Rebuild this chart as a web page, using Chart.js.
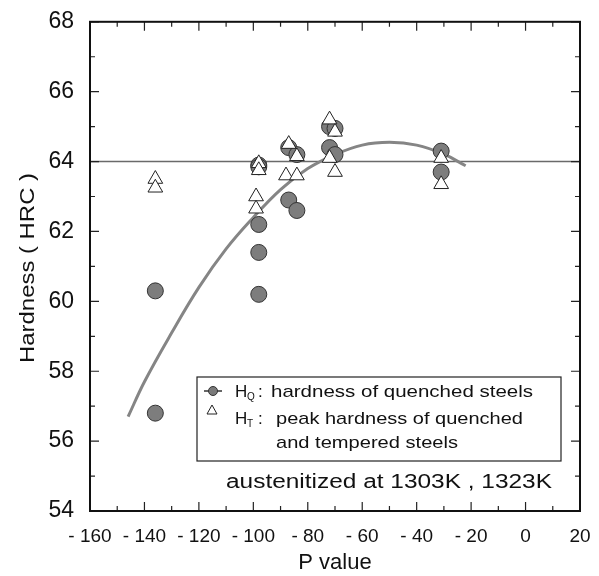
<!DOCTYPE html>
<html>
<head>
<meta charset="utf-8">
<script src="https://cdn.jsdelivr.net/npm/chart.js@4/dist/chart.umd.min.js"></script>
<style>
  body { margin: 0; background: #fff; }
  canvas { display: block; }
</style>
</head>
<body>
<canvas id="chart" width="599" height="576"></canvas>
<script>
// ── Data ──────────────────────────────────────────────────────────────
const quenchedP = [-136, -136, -98, -98, -98, -98, -98, -87, -84, -87, -84, -72, -70, -72, -70, -31, -31];
const quenchedH = [60.3, 56.8, 63.9, 63.85, 62.2, 61.4, 60.2, 62.9, 62.6, 64.4, 64.2, 65.0, 64.95, 64.4, 64.2, 64.3, 63.7];

const temperedP = [-136, -136, -98, -98, -99, -99, -87, -88, -84, -84, -72, -70, -72, -70, -31, -31];
const temperedH = [63.5, 63.25, 63.95, 63.75, 63.0, 62.65, 64.5, 63.6, 64.15, 63.6, 65.2, 64.85, 64.1, 63.7, 64.1, 63.35];

const fitP = [-146, -140, -130, -120, -110, -100, -90, -80, -70, -60, -50, -40, -30, -22];
const fitH = [56.7, 57.7, 59.1, 60.4, 61.5, 62.4, 63.2, 63.8, 64.2, 64.47, 64.55, 64.47, 64.21, 63.88];

const refP = [-160, 20];
const refH = [64, 64];

const xTicks = [-160, -140, -120, -100, -80, -60, -40, -20, 0, 20];
const yTicks = [54, 56, 58, 60, 62, 64, 66, 68];

const FONT = 'Arial, "Liberation Sans", sans-serif';

function pts(xs, ys) {
    return xs.map((x, i) => ({ x, y: ys[i] }));
}

function fmtX(v) {
    return v < 0 ? '- ' + Math.abs(v) : String(v);
}

// text stretched horizontally to a given width (the source lettering is wide)
function wideText(ctx, str, x, y, width) {
    const w = ctx.measureText(str).width;
    ctx.save();
    ctx.translate(x, y);
    ctx.scale(width / w, 1);
    ctx.fillText(str, 0, 0);
    ctx.restore();
}

// inward tick marks on all four sides, frame, legend box, notes
const decorPlugin = {
    id: 'decor',
    afterDraw(chart) {
        const { ctx, chartArea: a, scales: { x, y } } = chart;
        ctx.save();
        ctx.strokeStyle = '#222';
        ctx.lineWidth = 1.2;
        ctx.beginPath();
        for (let v = -160; v <= 20; v += 10) {
            const px = x.getPixelForValue(v);
            const len = v % 20 === 0 ? 9 : 5;
            ctx.moveTo(px, a.bottom); ctx.lineTo(px, a.bottom - len);
            ctx.moveTo(px, a.top); ctx.lineTo(px, a.top + len);
        }
        for (let v = 54; v <= 68; v += 1) {
            const py = y.getPixelForValue(v);
            const len = v % 2 === 0 ? 9 : 5;
            ctx.moveTo(a.left, py); ctx.lineTo(a.left + len, py);
            ctx.moveTo(a.right, py); ctx.lineTo(a.right - len, py);
        }
        ctx.stroke();

        // frame
        ctx.lineWidth = 2;
        ctx.strokeStyle = '#111';
        ctx.strokeRect(a.left, a.top, a.right - a.left, a.bottom - a.top);

        // y axis title
        ctx.fillStyle = '#111';
        ctx.font = '21px ' + FONT;
        ctx.textAlign = 'left';
        ctx.textBaseline = 'middle';
        ctx.save();
        ctx.translate(28, 268);
        ctx.rotate(-Math.PI / 2);
        wideText(ctx, 'Hardness ( HRC )', -95, 0, 190);
        ctx.restore();

        // legend box
        const bx = 197, by = 377, bw = 364, bh = 84;
        ctx.fillStyle = '#fff';
        ctx.fillRect(bx, by, bw, bh);
        ctx.lineWidth = 1.2;
        ctx.strokeStyle = '#222';
        ctx.strokeRect(bx, by, bw, bh);

        // row 1: line + circle
        ctx.strokeStyle = '#333';
        ctx.lineWidth = 1.5;
        ctx.beginPath();
        ctx.moveTo(204, 391); ctx.lineTo(222, 391);
        ctx.stroke();
        ctx.beginPath();
        ctx.arc(213, 391, 4.5, 0, Math.PI * 2);
        ctx.fillStyle = '#7a7a7a';
        ctx.fill();
        ctx.lineWidth = 1;
        ctx.stroke();

        ctx.fillStyle = '#111';
        ctx.textBaseline = 'alphabetic';
        ctx.font = '17px ' + FONT;
        ctx.fillText('H', 235, 397);
        ctx.font = '10px ' + FONT;
        ctx.fillText('Q', 247, 400);
        ctx.font = '17px ' + FONT;
        ctx.fillText(':', 258, 397);
        wideText(ctx, 'hardness of quenched steels', 271, 397, 262);

        // row 2: small open triangle
        ctx.beginPath();
        ctx.moveTo(212, 405); ctx.lineTo(217, 414); ctx.lineTo(207, 414);
        ctx.closePath();
        ctx.fillStyle = '#fff';
        ctx.fill();
        ctx.strokeStyle = '#222';
        ctx.lineWidth = 1;
        ctx.stroke();

        ctx.fillStyle = '#111';
        ctx.font = '17px ' + FONT;
        ctx.fillText('H', 235, 424);
        ctx.font = '10px ' + FONT;
        ctx.fillText('T', 247, 427);
        ctx.font = '17px ' + FONT;
        ctx.fillText(':', 258, 424);
        wideText(ctx, 'peak hardness of quenched', 276, 424, 247);
        wideText(ctx, 'and tempered steels', 276, 448, 182);

        // note
        ctx.font = '20px ' + FONT;
        wideText(ctx, 'austenitized at 1303K , 1323K', 226, 488, 326);
        ctx.restore();
    }
};

const ctx = document.getElementById('chart');

new Chart(ctx, {
    type: 'scatter',
    data: {
        datasets: [
            {
                label: 'H_T',
                data: pts(temperedP, temperedH),
                pointStyle: 'triangle',
                pointRadius: 8.5,
                backgroundColor: '#ffffff',
                borderColor: '#222222',
                borderWidth: 1,
                order: 0
            },
            {
                label: 'H_Q',
                data: pts(quenchedP, quenchedH),
                pointStyle: 'circle',
                pointRadius: 8,
                backgroundColor: '#7d7d7d',
                borderColor: '#333333',
                borderWidth: 1,
                order: 1
            },
            {
                label: 'fit',
                type: 'line',
                data: pts(fitP, fitH),
                borderColor: '#858585',
                borderWidth: 3,
                pointRadius: 0,
                tension: 0.4,
                fill: false,
                order: 2
            },
            {
                label: 'ref',
                type: 'line',
                data: pts(refP, refH),
                borderColor: '#6a6a6a',
                borderWidth: 1.5,
                pointRadius: 0,
                fill: false,
                order: 3
            }
        ]
    },
    options: {
        responsive: false,
        animation: false,
        layout: { padding: { top: 19, right: 19, left: 0, bottom: 0 } },
        plugins: {
            legend: { display: false },
            tooltip: { enabled: false }
        },
        scales: {
            x: {
                type: 'linear',
                min: -160,
                max: 20,
                afterBuildTicks: s => { s.ticks = xTicks.map(v => ({ value: v })); },
                grid: { display: false },
                border: { display: false },
                ticks: {
                    color: '#111',
                    padding: 6,
                    maxRotation: 0,
                    autoSkip: false,
                    font: { family: FONT, size: 19 },
                    callback: v => fmtX(v)
                },
                title: {
                    display: true,
                    text: 'P value',
                    color: '#111',
                    padding: { top: 4, bottom: 0 },
                    font: { family: FONT, size: 22 }
                },
                afterFit: s => { s.height = 65; }
            },
            y: {
                type: 'linear',
                min: 54,
                max: 68,
                afterBuildTicks: s => { s.ticks = yTicks.map(v => ({ value: v })); },
                grid: { display: false },
                border: { display: false },
                ticks: {
                    color: '#111',
                    padding: 8,
                    autoSkip: false,
                    font: { family: FONT, size: 23 }
                },
                title: { display: false },
                afterFit: s => { s.width = 90; }
            }
        }
    },
    plugins: [decorPlugin]
});
</script>
</body>
</html>
